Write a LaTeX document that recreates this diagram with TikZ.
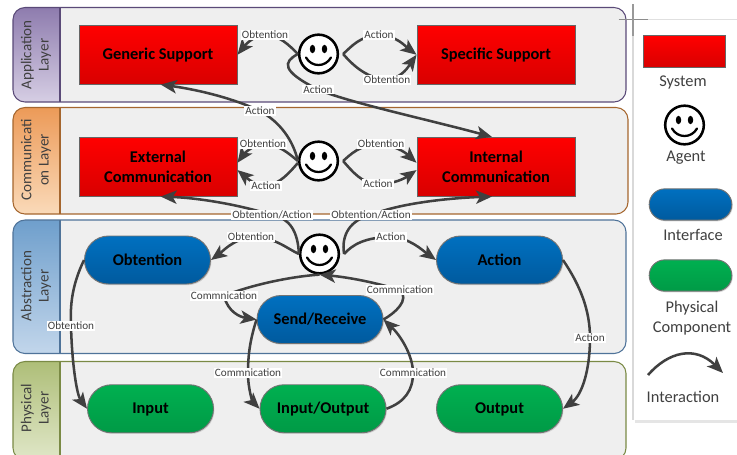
\documentclass[tikz,border=0pt]{standalone}
\usepackage{fontspec}
\setmainfont{Carlito}
\usetikzlibrary{arrows.meta,shapes.misc,shadows}
\definecolor{linegray}{HTML}{404040}
\definecolor{panelgray}{HTML}{EFEFEF}
\definecolor{blue0}{HTML}{0070C0}
\definecolor{blue1}{HTML}{005A9E}
\definecolor{green0}{HTML}{00B050}
\definecolor{green1}{HTML}{009A46}
\definecolor{appedge}{HTML}{5A4A78}
\definecolor{appa}{HTML}{8E7CAE}
\definecolor{appb}{HTML}{D6CEE4}
\definecolor{comedge}{HTML}{A5662E}
\definecolor{coma}{HTML}{EC9A58}
\definecolor{comb}{HTML}{FADAB9}
\definecolor{absedge}{HTML}{4F7399}
\definecolor{absa}{HTML}{6F9FCC}
\definecolor{absb}{HTML}{C2D6EB}
\definecolor{phyedge}{HTML}{7A8A45}
\definecolor{phya}{HTML}{AEBE78}
\definecolor{phyb}{HTML}{E0E7C8}
\tikzset{
  px/.style={x=0.75pt,y=-0.75pt},
  softshadow/.style={drop shadow={shadow xshift=.7pt,shadow yshift=-.9pt,opacity=.3}},
  systembox/.style={draw=gray!80!black,line width=.7pt,top color=red,bottom color=red!85!black,softshadow,
    minimum width=118.5pt,minimum height=44pt,inner sep=0pt,align=center,font=\fontsize{12.3}{15}\selectfont\bfseries},
  oneline/.style={text height=7.6pt,text depth=0pt},
  pillbase/.style={draw=black!55,line width=.7pt,rounded rectangle,rounded rectangle arc length=180,softshadow,
    minimum width=94.5pt,inner sep=0pt,font=\fontsize{12.3}{14}\selectfont\bfseries},
  iface/.style={pillbase,top color=blue0,bottom color=blue1,minimum height=36pt,oneline},
  phys/.style={pillbase,top color=green0,bottom color=green1,minimum height=36pt,oneline},
  agent/.style={circle,draw=black,line width=1.9pt,minimum size=29pt,inner sep=0pt,fill=white},
  link/.style={draw=linegray,line width=1.9pt,-{Stealth[length=12pt,width=10pt,inset=3pt]}},
  plainlink/.style={draw=linegray,line width=1.9pt},
  lbl/.style={fill=white,inner sep=.8pt,text=linegray,font=\fontsize{8.4}{9}\selectfont},
  layertext/.style={rotate=90,align=center,text=linegray,font=\fontsize{11.3}{13}\selectfont},
  legendtext/.style={text=linegray,align=center,font=\fontsize{12.3}{15}\selectfont},
}
% #1 top, #2 bottom, #3 right, #4 edge colour, #5 band top, #6 band bottom
\newcommand{\layerbox}[6]{%
  \begin{scope}
    \clip[rounded corners=9pt] (13,#1) rectangle (#3,#2);
    \fill[panelgray] (13,#1) rectangle (#3,#2);
    \shade[top color=#5,bottom color=#6] (13,#1) rectangle (60,#2);
  \end{scope}
  \draw[#4,line width=.8pt,rounded corners=9pt] (13,#1) rectangle (#3,#2);
  \draw[#4,line width=.8pt] (60,#1) -- (60,#2);
}
\newcommand{\smileyface}[2]{%
  \node[agent] (#1) at (#2) {};
  \begin{scope}[shift={(#1.center)}]
    \fill[black] (-6,-5) ellipse (2.7 and 4.2);
    \fill[black] (6,-5) ellipse (2.7 and 4.2);
    \draw[black,line width=1.7pt,line cap=round] (-12.5,3.5) .. controls (-7,13.5) and (7,13.5) .. (12.5,3.5);
  \end{scope}
}
\begin{document}
\begin{tikzpicture}[px]
\useasboundingbox (0,0) rectangle (737,454);
\clip (0,0) rectangle (737,454);
\fill[white] (0,0) rectangle (737,454);

% layers
\layerbox{7.5}{102}{626}{appedge}{appa}{appb}
\layerbox{107.5}{214}{628}{comedge}{coma}{comb}
\layerbox{220}{353.5}{626}{absedge}{absa}{absb}
\layerbox{361.5}{460}{626}{phyedge}{phya}{phyb}
\node[layertext] (lapp) at (36,55) {Application\\Layer};
\node[layertext] (lcom) at (36,160) {Communicati\\on Layer};
\node[layertext] (labs) at (36,286) {Abstraction\\Layer};
\node[layertext] (lphy) at (36,408) {Physical\\Layer};

% legend panel
\fill[black!10] (635,21) rectangle (737,423);
\fill[white] (634,20) rectangle (737,420);
\draw[black!12,line width=.7pt] (737,19) -- (648,19);
\draw[black!15,line width=.9pt] (633,36) -- (633,420);
\draw[black!45,line width=.6pt] (618.5,19) -- (648,19);
\draw[black!40,line width=.9pt] (633,4) -- (633,36);

% systems
\node[systembox,oneline] (gs) at (158,54.75) {Generic Support};
\node[systembox,oneline] (ss) at (496,54.75) {Specific Support};
\node[systembox] (ec) at (158,166.75) {External\\Communication};
\node[systembox] (ic) at (496,166.75) {Internal\\Communication};

% interfaces
\node[iface] (ob) at (147.5,260) {Obtention};
\node[iface] (ac) at (499.5,260) {Action};
\node[iface] (sr) at (320,319.5) {Send/Receive};

% physical components
\node[phys] (in) at (150.5,408.75) {Input};
\node[phys] (io) at (323,408.75) {Input/Output};
\node[phys] (ou) at (499.5,408.75) {Output};

% agents
\smileyface{ag1}{318.5,54}
\smileyface{ag2}{318.5,161}
\smileyface{ag3}{319.5,254}

% label positions
\coordinate (c1) at (265,35);
\coordinate (c2) at (318,89.5);
\coordinate (c3) at (379,35);
\coordinate (c4) at (387,80);
\coordinate (c5) at (260,111);
\coordinate (c6) at (263,144);
\coordinate (c7) at (266,186);
\coordinate (c8) at (381,144);
\coordinate (c9) at (378,184);
\coordinate (c10) at (272,215);
\coordinate (c11) at (371,215);
\coordinate (c12) at (251,237);
\coordinate (c13) at (391,237);
\coordinate (c14) at (400,290);
\coordinate (c15) at (224,296);
\coordinate (c16) at (71,326);
\coordinate (c17) at (248,373);
\coordinate (c18) at (413,373);
\coordinate (c19) at (590,338);

% connectors
\path[link] (ag1.180) .. controls (289,45) and (279,35) .. (c1) .. controls (255,35) and (246,44) .. (gs.east);
\path[link] (ag1.180) .. controls (283,62) and (281,71) .. (c2) .. controls (350,103) and (430,120) .. ([xshift=-3]ic.north);
\path[link] ([xshift=3]ag1.east) .. controls (352,46) and (360,36) .. (c3) .. controls (397,36) and (405,46) .. (ss.west);
\path[link] ([xshift=3]ag1.east) .. controls (351,63) and (365,78) .. (c4) .. controls (403,78) and (410,64) .. (ss.west);
\path[link] (ag2.180) .. controls (293,140) and (280,122) .. (c5) .. controls (235,99) and (200,90) .. ([xshift=2]gs.south);
\path[link] (ag2.180) .. controls (288,153) and (280,145) .. (c6) .. controls (252,145) and (243,155) .. ([yshift=3pt]ec.east);
\path[link] (ag2.185) .. controls (290,172) and (280,184) .. (c7) .. controls (254,185) and (247,178) .. ([yshift=-2.5pt]ec.east);
\path[link] ([xshift=3]ag2.east) .. controls (350,155) and (360,144) .. (c8) .. controls (400,147) and (408,155) .. ([yshift=3pt]ic.west);
\path[link] ([xshift=3]ag2.east) .. controls (352,171) and (362,184) .. (c9) .. controls (395,184) and (405,178) .. ([yshift=-2.5pt]ic.west);
\path[link] (ag3.180) .. controls (298,232) and (290,218) .. (c10) .. controls (240,205) and (200,198) .. ([xshift=2]ec.south);
\path[link] ([xshift=3]ag3.east) .. controls (341,235) and (350,220) .. (c11) .. controls (400,203) and (450,198) .. ([xshift=-3]ic.south);
\path[link] (ag3.180) .. controls (286,248) and (275,237) .. (c12) .. controls (232,240) and (222,252) .. (ob.east);
\path[link] ([xshift=3]ag3.east) .. controls (352,245) and (365,237) .. (c13) .. controls (410,238) and (422,250) .. (ac.west);
\path[link] (sr.east) .. controls (395,313) and (410,300) .. (c14) .. controls (370,281) and (345,277) .. (ag3.south);
\path[plainlink] (ag3.south) .. controls (285,277) and (245,287) .. (c15);
\path[link] (c15) .. controls (228,312) and (240,317) .. (sr.west);
\path[link] (ob.west) .. controls (72,285) and (70,305) .. (c16) .. controls (72,365) and (77,395) .. (in.west);
\path[link] (sr.west) .. controls (250,340) and (248,355) .. (c17) .. controls (248,390) and (253,402) .. (io.west);
\path[link] (io.east) .. controls (405,402) and (413,390) .. (c18) .. controls (413,355) and (400,335) .. (sr.east);
\path[link] (ac.east) .. controls (580,285) and (590,310) .. (c19) .. controls (590,370) and (582,395) .. (ou.east);

% connector labels
\node[lbl] (t1) at (c1) {Obtention};
\node[lbl] (t2) at (c2) {Action};
\node[lbl] (t3) at (c3) {Action};
\node[lbl] (t4) at (c4) {Obtention};
\node[lbl] (t5) at (c5) {Action};
\node[lbl] (t6) at (c6) {Obtention};
\node[lbl] (t7) at (c7) {Action};
\node[lbl] (t8) at (c8) {Obtention};
\node[lbl] (t9) at (c9) {Action};
\node[lbl] (t10) at (c10) {Obtention/Action};
\node[lbl] (t11) at (c11) {Obtention/Action};
\node[lbl] (t12) at (c12) {Obtention};
\node[lbl] (t13) at (c13) {Action};
\node[lbl] (t14) at (c14) {Commnication};
\node[lbl] (t15) at (c15) {Commnication};
\node[lbl] (t16) at (c16) {Obtention};
\node[lbl] (t17) at (c17) {Commnication};
\node[lbl] (t18) at (c18) {Commnication};
\node[lbl] (t19) at (c19) {Action};

% legend
\node[draw=gray!80!black,line width=.7pt,top color=red,bottom color=red!85!black,softshadow,minimum width=61.5pt,minimum height=23.5pt,inner sep=0pt] (lgsys) at (684.5,51.5) {};
\node[legendtext] (lgsyst) at (683,82) {System};
\smileyface{lgag}{684.5,125}
\node[legendtext] (lgagt) at (686,158) {Agent};
\node[pillbase,top color=blue0,bottom color=blue1,minimum width=62pt,minimum height=23.5pt] (lgif) at (690.5,204.5) {};
\node[legendtext] (lgift) at (693,235) {Interface};
\node[pillbase,top color=green0,bottom color=green1,minimum width=62pt,minimum height=23.5pt] (lgph) at (690.5,275.5) {};
\node[legendtext] (lgpht) at (692,318) {Physical\\Component};
\coordinate (lga) at (648,375);
\coordinate (lgb) at (723,373);
\path[link] (lga) .. controls (668,352) and (695,345) .. (lgb);
\node[legendtext] (lgint) at (683,397) {Interaction};
\end{tikzpicture}
\end{document}
